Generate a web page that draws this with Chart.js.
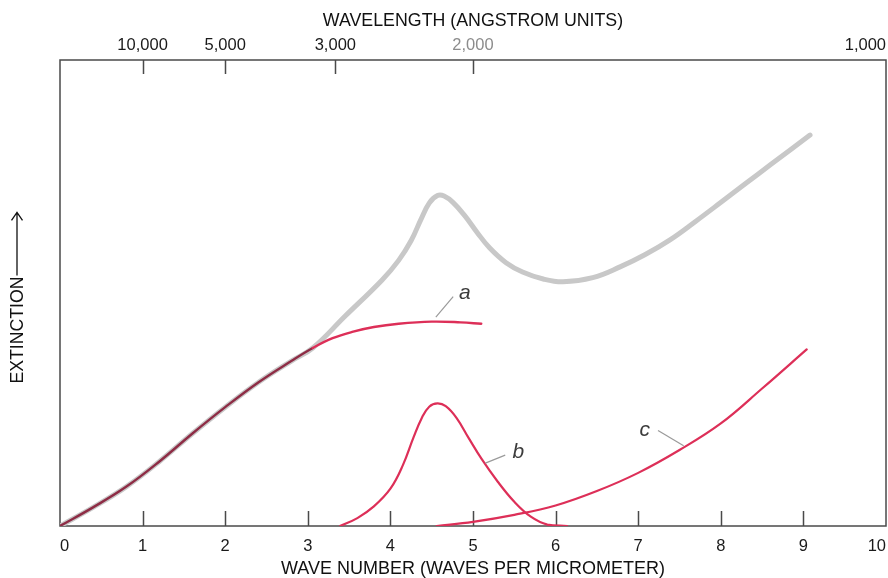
<!DOCTYPE html>
<html>
<head>
<meta charset="utf-8">
<title>Extinction vs wave number</title>
<script src="https://cdn.jsdelivr.net/npm/chart.js@4.4.1/dist/chart.umd.min.js"></script>
<style>
  body { margin: 0; background: #fff; }
  canvas { display: block; }
</style>
</head>
<body>
<canvas id="extinction" width="888" height="578"></canvas>
<script>
// total extinction (grey curve)
const totalX = [0, 0.4, 0.8, 1.2, 1.6, 2.0, 2.4, 2.8, 3.06, 3.45, 3.9, 4.1, 4.25, 4.37, 4.47, 4.57, 4.65, 4.76, 4.9, 5.05, 5.2, 5.4, 5.6, 5.85, 6.09, 6.45, 6.78, 7.08, 7.385, 7.69, 7.99, 8.3, 8.6, 9.08];
const totalY = [0, 0.4, 0.84, 1.38, 1.98, 2.55, 3.08, 3.54, 3.82, 4.5, 5.28, 5.7, 6.12, 6.58, 6.93, 7.09, 7.08, 6.94, 6.66, 6.3, 5.97, 5.65, 5.45, 5.3, 5.24, 5.33, 5.56, 5.82, 6.14, 6.53, 6.93, 7.35, 7.75, 8.39];

// component a
const aX = [0, 0.4, 0.8, 1.2, 1.6, 2.0, 2.4, 2.8, 3.06, 3.3, 3.55, 3.8, 4.1, 4.5, 4.85, 5.1];
const aY = [0, 0.4, 0.84, 1.38, 1.98, 2.55, 3.08, 3.54, 3.82, 4.03, 4.17, 4.27, 4.34, 4.385, 4.37, 4.34];

// component b (the 2,200 A bump)
const bX = [3.39, 3.6, 3.8, 4.0, 4.15, 4.28, 4.38, 4.47, 4.57, 4.67, 4.8, 4.95, 5.1, 5.3, 5.5, 5.7, 5.9, 6.14];
const bY = [0, 0.17, 0.42, 0.8, 1.3, 1.9, 2.32, 2.56, 2.63, 2.57, 2.32, 1.88, 1.45, 0.95, 0.52, 0.2, 0.03, 0];

// component c
const cX = [4.56, 5.0, 5.5, 6.0, 6.5, 7.0, 7.5, 8.0, 8.5, 9.04];
const cY = [0, 0.09, 0.24, 0.44, 0.75, 1.14, 1.63, 2.2, 2.95, 3.79];

// axis ticks
const waveTicks = [0, 1, 2, 3, 4, 5, 6, 7, 8, 9, 10];
const wavelengths = [10000, 5000, 3000, 2000, 1000];

// a runs under the grey curve up to here
const OVERLAP_END = 3.06;

const FONT = "'Liberation Sans', Arial, Helvetica, sans-serif";
const RED = '#dd2f58';

const curveLabels = [
  { text: 'a', at: [4.9, 5.0], from: [4.76, 4.92], to: [4.55, 4.48] },
  { text: 'b', at: [5.55, 1.59], from: [5.39, 1.52], to: [5.15, 1.35] },
  { text: 'c', at: [7.08, 2.06], from: [7.24, 2.05], to: [7.55, 1.72] }
];

function toPoints(xs, ys) {
  return xs.map((x, i) => ({ x: x, y: ys[i] }));
}

const frame = {
  id: 'frame',
  beforeDatasetsDraw(chart) {
    const { ctx, chartArea: { left, right, top, bottom }, scales: { x } } = chart;
    ctx.save();
    ctx.strokeStyle = '#4a4a4a';
    ctx.lineWidth = 1.5;
    ctx.strokeRect(left, top, right - left, bottom - top);
    // inward ticks
    ctx.beginPath();
    waveTicks.slice(1, -1).forEach(v => {
      const px = Math.round(x.getPixelForValue(v)) + 0.5;
      ctx.moveTo(px, bottom);
      ctx.lineTo(px, bottom - 15);
    });
    wavelengths.slice(0, -1).forEach(w => {
      const px = Math.round(x.getPixelForValue(1e4 / w)) + 0.5;
      ctx.moveTo(px, top);
      ctx.lineTo(px, top + 14);
    });
    ctx.stroke();
    ctx.restore();
  },
  afterDatasetsDraw(chart) {
    const { ctx, scales: { x, y } } = chart;
    ctx.save();
    // leader lines and curve letters
    ctx.strokeStyle = '#9a9a9a';
    ctx.lineWidth = 1.2;
    ctx.fillStyle = '#3c3c3c';
    ctx.font = 'italic 21px ' + FONT;
    ctx.textAlign = 'center';
    ctx.textBaseline = 'middle';
    curveLabels.forEach(l => {
      ctx.beginPath();
      ctx.moveTo(x.getPixelForValue(l.from[0]), y.getPixelForValue(l.from[1]));
      ctx.lineTo(x.getPixelForValue(l.to[0]), y.getPixelForValue(l.to[1]));
      ctx.stroke();
      ctx.fillText(l.text, x.getPixelForValue(l.at[0]), y.getPixelForValue(l.at[1]));
    });

    // vertical axis title with arrow
    ctx.translate(18, 330);
    ctx.rotate(-Math.PI / 2);
    ctx.font = '17.7px ' + FONT;
    ctx.fillStyle = '#111';
    ctx.fillText('EXTINCTION', 0, 0);
    const half = ctx.measureText('EXTINCTION').width / 2;
    ctx.strokeStyle = '#111';
    ctx.lineWidth = 1.3;
    ctx.beginPath();
    ctx.moveTo(half + 1, -1);
    ctx.lineTo(half + 64, -1);
    ctx.moveTo(half + 56, -6.5);
    ctx.lineTo(half + 64, -1);
    ctx.lineTo(half + 56, 4.5);
    ctx.stroke();
    ctx.restore();
  }
};

new Chart(document.getElementById('extinction'), {
  type: 'line',
  data: {
    datasets: [
      {
        label: 'a',
        data: toPoints(aX, aY),
        borderColor: RED,
        borderWidth: 2.4,
        segment: {
          borderColor: ctx => ctx.p1.parsed.x <= OVERLAP_END ? '#8e2c45' : undefined
        }
      },
      { label: 'b', data: toPoints(bX, bY), borderColor: RED, borderWidth: 2.2 },
      { label: 'c', data: toPoints(cX, cY), borderColor: RED, borderWidth: 2.2 },
      { label: 'total', data: toPoints(totalX, totalY), borderColor: '#c8c8c8', borderWidth: 5 }
    ]
  },
  options: {
    responsive: false,
    animation: false,
    layout: { padding: { left: 60, right: 2, top: 0, bottom: 0 } },
    elements: {
      point: { radius: 0 },
      line: { tension: 0.4, fill: false, borderCapStyle: 'round', borderJoinStyle: 'round' }
    },
    plugins: { legend: { display: false }, tooltip: { enabled: false } },
    scales: {
      x: {
        type: 'linear',
        position: 'bottom',
        min: 0,
        max: 10,
        afterBuildTicks: axis => { axis.ticks = waveTicks.map(v => ({ value: v })); },
        grid: { drawOnChartArea: false, drawTicks: true, tickLength: 12, tickColor: 'rgba(0,0,0,0)' },
        border: { display: false },
        ticks: {
          autoSkip: false,
          maxRotation: 0,
          align: 'inner',
          padding: 0,
          color: '#1a1a1a',
          font: { family: FONT, size: 16.5, lineHeight: 1 }
        },
        title: {
          display: true,
          text: 'WAVE NUMBER (WAVES PER MICROMETER)',
          color: '#111',
          font: { family: FONT, size: 18, lineHeight: 1 },
          padding: { top: 5.5, bottom: 0 }
        }
      },
      x2: {
        type: 'linear',
        position: 'top',
        min: 0,
        max: 10,
        afterBuildTicks: axis => {
          axis.ticks = [{ value: 0 }].concat(wavelengths.map(w => ({ value: 1e4 / w })));
        },
        grid: { drawOnChartArea: false, drawTicks: true, tickLength: 6.25, tickColor: 'rgba(0,0,0,0)' },
        border: { display: false },
        ticks: {
          autoSkip: false,
          maxRotation: 0,
          align: 'inner',
          padding: 0,
          color: ctx => ctx.index === 4 ? '#8c8c8c' : '#1a1a1a',
          font: { family: FONT, size: 16.5, lineHeight: 1 },
          callback: (value, index) => index === 0 ? '' : wavelengths[index - 1].toLocaleString('en-US')
        },
        title: {
          display: true,
          text: 'WAVELENGTH (ANGSTROM UNITS)',
          color: '#111',
          font: { family: FONT, size: 17.8, lineHeight: 1 },
          padding: { top: 12, bottom: 7.45 }
        }
      },
      y: {
        display: false,
        min: 0,
        max: 10
      }
    }
  },
  plugins: [frame]
});
</script>
</body>
</html>
